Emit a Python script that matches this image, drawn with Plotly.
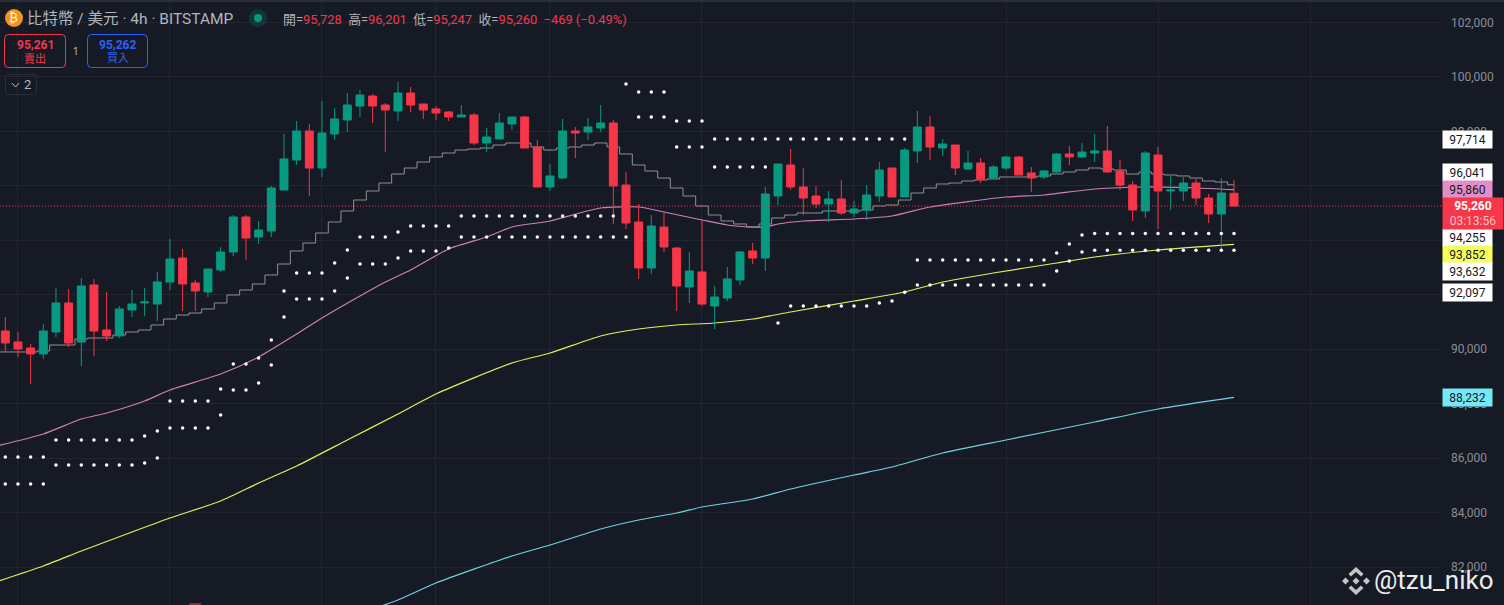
import plotly.graph_objects as go

# BTC/USD 4h candles
opens = [90670, 90266, 90046, 89826, 90634, 91699, 90266, 92360, 90707, 90487, 91442, 91699, 91662, 92470, 93352, 92434,
         92103, 92911, 93572, 94858, 94123, 94343, 95849, 96951, 98016, 96657, 97906, 98420, 98935, 99302, 98971, 98751,
         99412, 99008, 98825, 98714, 98531, 98604, 97576, 97723, 98274, 98531, 97429, 95960, 96290, 98016, 97980, 98127,
         98310, 96033, 94674, 92984, 94491, 93719, 92287, 92838, 91589, 91882, 92544, 93609, 93352, 95629, 96768, 95960,
         95629, 95335, 95519, 95005, 95115, 95629, 96657, 95592, 97282, 98163, 97392, 97502, 96621, 96841, 96290, 96657,
         97062, 96474, 96327, 96511, 97172, 97062, 97208, 97282, 96547, 96033, 95078, 97135, 95813, 95813, 96106, 95555,
         94968, 95728]
highs = [91185, 90634, 90193, 90928, 92250, 92213, 92617, 92581, 92103, 91589, 92176, 92250, 92838, 94049, 93682, 92544,
         92948, 93756, 94931, 94931, 94711, 95996, 97906, 98384, 98274, 99118, 98861, 99412, 99522, 99375, 99045, 99816,
         99633, 99008, 98935, 98751, 98971, 98678, 98127, 98678, 98531, 98567, 97686, 96804, 98457, 98163, 98494, 98971,
         98420, 96511, 95335, 94931, 95005, 93756, 93572, 94748, 92323, 93021, 93609, 93903, 95960, 96804, 97355, 96657,
         95996, 95813, 96217, 95445, 96033, 96878, 96657, 97392, 98751, 98567, 97723, 97502, 97282, 97025, 96768, 97098,
         97098, 96694, 96584, 97208, 97465, 97576, 97906, 98200, 96951, 96180, 97282, 97429, 96364, 96327, 96253, 95702,
         96290, 96201]
lows = [89900, 89716, 88724, 89642, 90450, 90083, 89385, 89752, 90303, 90413, 91185, 91222, 91038, 92176, 91405, 91405,
        91919, 92838, 93425, 93278, 93866, 94123, 95849, 96768, 95629, 96327, 97686, 97980, 98531, 98310, 97245, 98384,
        98714, 98457, 98420, 98384, 98531, 97502, 97245, 97723, 98053, 97392, 95960, 95813, 96253, 97025, 97686, 97980,
        94601, 94417, 92581, 92764, 93572, 91405, 91699, 91589, 90744, 91772, 92360, 93131, 92874, 95298, 95849, 94931,
        95188, 94674, 94931, 94858, 94748, 95409, 95592, 95592, 96841, 96951, 97098, 96400, 96584, 96106, 96290, 96584,
        96400, 95776, 96253, 96474, 96768, 97025, 96878, 96474, 95849, 94711, 94821, 94417, 95115, 95445, 95298, 94637,
        93609, 95247]
closes = [90230, 90010, 89826, 90670, 91699, 90230, 92323, 90670, 90487, 91479, 91662, 91736, 92470, 93315, 92397, 92140,
          92948, 93572, 94858, 94086, 94380, 95923, 96988, 98016, 96657, 97943, 98457, 98971, 99339, 98935, 98788, 99412,
          98971, 98788, 98678, 98531, 98604, 97576, 97796, 98310, 98531, 97392, 95960, 96364, 98016, 97943, 98163, 98310,
          95996, 94637, 92984, 94527, 93756, 92323, 92874, 91662, 91919, 92581, 93572, 93352, 95702, 96804, 95960, 95555,
          95335, 95519, 95005, 95151, 95666, 96584, 95592, 97318, 98163, 97429, 97539, 96657, 96841, 96253, 96694, 97062,
          96400, 96290, 96547, 97172, 97062, 97245, 97282, 96511, 96033, 95115, 97208, 95813, 95849, 96106, 95555, 94968,
          95739, 95260]

# stepped grey line, one level per candle (first level is off the left edge)
step_idx = list(range(-1, 98))
step_line = [89900, 89900, 89900, 89900, 89936, 90156, 90156, 90377, 90413, 90413, 90524, 90634, 90707, 90891, 91111, 91258,
             91331, 91479, 91699, 91993, 92176, 92397, 92727, 93131, 93609, 93903, 94270, 94674, 95078, 95482, 95813,
             96106, 96437, 96657, 96878, 97062, 97208, 97318, 97355, 97392, 97502, 97576, 97576, 97429, 97318, 97392,
             97429, 97502, 97576, 97429, 97172, 96768, 96547, 96290, 95923, 95629, 95262, 94931, 94711, 94601, 94491,
             94601, 94821, 94931, 95005, 95005, 95078, 95078, 95078, 95115, 95262, 95298, 95482, 95739, 95923, 96070,
             96106, 96180, 96217, 96253, 96327, 96327, 96327, 96364, 96437, 96511, 96584, 96657, 96621, 96584, 96437,
             96511, 96437, 96400, 96364, 96290, 96180, 96143, 96041]

# moving averages, read at a handful of candles
pink_idx = [-1, 3, 6, 8, 11, 13, 17, 20, 23, 25, 28, 30, 32, 35, 38, 40, 43, 47, 50, 52, 55, 57, 59, 60, 61, 63, 67, 70,
            73, 79, 82, 86, 90, 94, 97]
pink_ma = [86410, 86887, 87438, 87658, 88099, 88503, 89091, 89716, 90560, 91148, 91956, 92470, 92911, 93682, 94123, 94491,
           94711, 95188, 95225, 95041, 94748, 94564, 94491, 94491, 94601, 94711, 94784, 94894, 95225, 95592, 95666, 95886,
           95960, 95923, 95860]
yellow_idx = [-1, 3, 6, 10, 13, 17, 20, 23, 27, 31, 34, 40, 43, 47, 50, 53, 56, 59, 62, 67, 71, 74, 78, 83, 86, 91, 97]
yellow_ma = [81415, 82040, 82590, 83288, 83802, 84427, 85087, 85712, 86667, 87622, 88356, 89495, 89861, 90487, 90744, 90891,
             90964, 91111, 91369, 91772, 92103, 92470, 92801, 93168, 93388, 93646, 93852]
cyan_idx = [29, 31, 34, 40, 43, 47, 50, 53, 55, 59, 62, 67, 70, 74, 79, 86, 91, 97]
cyan_ma = [80460, 80790, 81415, 82407, 82810, 83398, 83728, 83986, 84206, 84500, 84867, 85381, 85675, 86190, 86667, 87328,
           87806, 88232]

# white dotted bands
upper_dots = [86042, 86042, 86042, 86042, 86667, 86667, 86667, 86667, 86667, 86667, 86667, 86814, 86998, 88099, 88099,
              88099, 88099, 88540, 89458, 89458, 89679, 90340, 92140, 92801, 92801, 92801, 93168, 93646, 94123, 94123,
              94123, 94307, 94527, 94527, 94527, 94527, 94894, 94894, 94894, 94894, 94894, 94894, 94894, 94894, 94894,
              94894, 94894, 94894, 94894, 99743, 99449, 99449, 99449, 98384, 98384, 98384, 97723, 97723, 97723, 97723,
              97723, 97723, 97723, 97723, 97723, 97723, 97723, 97723, 97723, 97723, 97723, 97723, 93278, 93278, 93278,
              93278, 93278, 93278, 93278, 93278, 93278, 93278, 93278, 93536, 93866, 94196, 94255, 94255, 94255, 94255,
              94255, 94255, 94255, 94255, 94255, 94255, 94255, 94255]
lower_dots = [85051, 85051, 85051, 85051, 85749, 85749, 85749, 85749, 85749, 85749, 85749, 85822, 86006, 87108, 87108,
              87108, 87108, 87585, 88503, 88503, 88760, 89422, 91185, 91846, 91846, 91846, 92140, 92617, 93131, 93131,
              93131, 93352, 93609, 93609, 93609, 93719, 94123, 94123, 94123, 94123, 94123, 94123, 94123, 94123, 94123,
              94123, 94123, 94123, 94123, 94123, 98531, 98531, 98531, 97429, 97429, 97429, 96694, 96694, 96694, 96694,
              96694, 90964, 91589, 91589, 91589, 91589, 91589, 91589, 91589, 91699, 91772, 92097, 92360, 92360, 92360,
              92360, 92360, 92360, 92360, 92360, 92360, 92360, 92360, 92874, 93242, 93572, 93632, 93632, 93632, 93632,
              93632, 93632, 93632, 93632, 93632, 93632, 93632, 93632]

# the only volume bar that pokes into the frame
volume_idx = [15]
volume_height = [680]
volume_base = 80000

price_ticks = [82000, 84000, 86000, 88000, 90000, 92000, 94000, 96000, 98000, 100000, 102000]
time_grid = [1, 13, 25, 34, 43, 55, 67, 79, 91, 103]
last_price = 95260

# price tags on the axis: text, background, centre row in the window
tag_text = ["97,714", "96,041", "95,860", "94,255", "93,852", "93,632", "92,097", "88,232"]
tag_color = ["#ffffff", "#ffffff", "#e28fc9", "#ffffff", "#f6ff5a", "#ffffff", "#ffffff", "#74e8f6"]
tag_row = [139.5, 172.5, 189.5, 237.5, 254.5, 271.5, 292.5, 397.5]

WIDTH, HEIGHT = 1504, 605
PLOT_W = 1442
BG = "#161a25"
GRID = "#23262f"
UP = "#089981"
DOWN = "#f63649"
TEXT = "#b2b5be"
FONT = "Roboto, 'Noto Sans CJK TC', sans-serif"
X_RANGE = [-0.418, 113.42]
Y_RANGE = [80606, 102828]


def px(x):
    return x / PLOT_W


def py(y):
    return 1 - y / HEIGHT


def label(text, x, y, size=12, color=TEXT, anchor="left", **kw):
    fig.add_annotation(
        text=text, x=px(x), y=py(y), xref="paper", yref="paper", xanchor=anchor, yanchor="middle",
        showarrow=False, font=dict(size=size, color=color, family=FONT), **kw
    )


def poly(points):
    return "M " + " L ".join(f"{px(x)} {py(y)}" for x, y in points) + " Z"


def round_box(x0, y0, x1, y1, r):
    return (f"M {px(x0 + r)} {py(y0)} L {px(x1 - r)} {py(y0)} Q {px(x1)} {py(y0)} {px(x1)} {py(y0 + r)} "
            f"L {px(x1)} {py(y1 - r)} Q {px(x1)} {py(y1)} {px(x1 - r)} {py(y1)} "
            f"L {px(x0 + r)} {py(y1)} Q {px(x0)} {py(y1)} {px(x0)} {py(y1 - r)} "
            f"L {px(x0)} {py(y0 + r)} Q {px(x0)} {py(y0)} {px(x0 + r)} {py(y0)} Z")


def shape_path(path, fill="rgba(0,0,0,0)", line="rgba(0,0,0,0)", width=1):
    fig.add_shape(type="path", path=path, xref="paper", yref="paper", fillcolor=fill,
                  line=dict(color=line, width=width), layer="above")


def circle(cx, cy, r, fill):
    fig.add_shape(type="circle", x0=px(cx - r), x1=px(cx + r), y0=py(cy + r), y1=py(cy - r), xref="paper", yref="paper",
                  fillcolor=fill, line_width=0, layer="above")


candle_idx = list(range(len(closes)))
fig = go.Figure()

# Lines sit on the base axes so the candles cover them
smooth = dict(width=1.2, shape="spline", smoothing=0.6)
fig.add_trace(go.Scatter(x=cyan_idx, y=cyan_ma, mode="lines", line=dict(color="#6fd3e0", **smooth)))
fig.add_trace(go.Scatter(x=yellow_idx, y=yellow_ma, mode="lines", line=dict(color="#e6ee5a", **smooth)))
fig.add_trace(go.Scatter(x=pink_idx, y=pink_ma, mode="lines", line=dict(color="#cf7fb5", **smooth)))
fig.add_trace(go.Scatter(x=step_idx, y=step_line, mode="lines", line=dict(color="#8f9196", width=1, shape="hvh")))

fig.add_trace(go.Bar(x=volume_idx, y=volume_height, base=volume_base, width=0.95,
                     marker=dict(color="#7d2f39", line_width=0), xaxis="x2", yaxis="y2"))
fig.add_trace(go.Candlestick(
    x=candle_idx, open=opens, high=highs, low=lows, close=closes, whiskerwidth=0, xaxis="x2", yaxis="y2",
    increasing=dict(line=dict(color=UP, width=1), fillcolor=UP),
    decreasing=dict(line=dict(color=DOWN, width=1), fillcolor=DOWN),
))
fig.add_trace(go.Scatter(x=candle_idx, y=upper_dots, mode="markers", marker=dict(color="#ffffff", size=3.5),
                         xaxis="x2", yaxis="y2"))
fig.add_trace(go.Scatter(x=candle_idx, y=lower_dots, mode="markers", marker=dict(color="#ffffff", size=3.5),
                         xaxis="x2", yaxis="y2"))

# Last price line
fig.add_shape(type="line", x0=0, x1=1, xref="paper", y0=last_price, y1=last_price, yref="y",
              line=dict(color=DOWN, width=1, dash="1px,2px"), layer="above")

fig.update_layout(
    width=WIDTH, height=HEIGHT, margin=dict(l=0, r=WIDTH - PLOT_W, t=0, b=0),
    paper_bgcolor=BG, plot_bgcolor=BG, showlegend=False, boxgap=0.37, boxgroupgap=0,
    font=dict(family=FONT, size=12, color="#8b8e97"),
    xaxis=dict(range=X_RANGE, tickvals=time_grid, showticklabels=False, gridcolor=GRID, gridwidth=1, zeroline=False,
               ticks=""),
    yaxis=dict(range=Y_RANGE, side="right", tickvals=price_ticks, tickformat=",d", gridcolor=GRID, gridwidth=1,
               zeroline=False, ticks="", ticklabelstandoff=8),
    xaxis2=dict(range=X_RANGE, overlaying="x", visible=False, rangeslider=dict(visible=False)),
    yaxis2=dict(range=Y_RANGE, overlaying="y", side="right", visible=False),
)

# Thin strip along the top of the window
fig.add_shape(type="rect", x0=0, x1=WIDTH / PLOT_W, y0=py(2), y1=1, xref="paper", yref="paper", fillcolor="#2a2e39",
              line_width=0, layer="above")

# Header
circle(14, 18, 9, "#f7931a")
label("₿", 14, 18, size=12, color="#ffffff", anchor="center")
label("比特幣 / 美元 · 4h · BITSTAMP", 25, 19, size=15.5)
circle(258, 18, 9, "rgba(8,153,129,0.2)")
circle(258, 18, 4, UP)
red = f"color:{DOWN}"
label(f"開=<span style='{red}'>95,728</span>  高=<span style='{red}'>96,201</span>  "
      f"低=<span style='{red}'>95,247</span>  收=<span style='{red}'>95,260</span>  "
      f"<span style='{red}'>−469 (−0.49%)</span>", 281, 19, size=12.9)

# Sell / buy buttons
shape_path(round_box(4.5, 34.5, 65.5, 67.5, 4), line=DOWN)
label("<b>95,261</b>", 35, 44.5, size=12, color=DOWN, anchor="center")
label("賣出", 35, 59, size=11, color=DOWN, anchor="center")
label("1", 76, 51, size=10, anchor="center")
shape_path(round_box(87.5, 34.5, 147.5, 67.5, 4), line="#2962ff")
label("<b>95,262</b>", 117.5, 44.5, size=12, color="#2962ff", anchor="center")
label("買入", 117.5, 59, size=11, color="#2962ff", anchor="center")

# Collapsed indicators button
shape_path(round_box(5.5, 74.5, 36.5, 94.5, 3), line="#2a2e39")
fig.add_shape(type="path", path=f"M {px(12)} {py(83)} L {px(15.5)} {py(87)} L {px(19)} {py(83)}", xref="paper",
              yref="paper", line=dict(color=TEXT, width=1), layer="above")
label("2", 28, 84.5, size=13, anchor="center")

# Axis tags, drawn over the tick labels they hide
for text, color, row in zip(tag_text, tag_color, tag_row):
    label(text, PLOT_W, row, size=12, color="#131722", bgcolor=color, width=49, height=17, borderpad=0, align="center")
label("<b>95,260</b><br><span style='color:#ffc4ca'>03:13:56</span>", PLOT_W, 213.5, size=12, color="#ffffff",
      bgcolor=DOWN, width=60, height=31, borderpad=0, align="center")

# Watermark
cx, cy = 1356, 581
ICON = "#c4c4c4"
shape_path(poly([(cx - 3.5, cy), (cx, cy - 3.5), (cx + 3.5, cy), (cx, cy + 3.5)]), fill=ICON)
shape_path(poly([(cx - 14, cy), (cx - 10.5, cy - 3.5), (cx - 7, cy), (cx - 10.5, cy + 3.5)]), fill=ICON)
shape_path(poly([(cx + 14, cy), (cx + 10.5, cy - 3.5), (cx + 7, cy), (cx + 10.5, cy + 3.5)]), fill=ICON)
shape_path(poly([(cx - 7.5, cy - 7), (cx, cy - 14), (cx + 7.5, cy - 7), (cx + 5, cy - 4.5), (cx, cy - 9),
                 (cx - 5, cy - 4.5)]), fill=ICON)
shape_path(poly([(cx - 7.5, cy + 7), (cx, cy + 14), (cx + 7.5, cy + 7), (cx + 5, cy + 4.5), (cx, cy + 9),
                 (cx - 5, cy + 4.5)]), fill=ICON)
label("@tzu_niko", 1372, 580, size=26, color="#ececec")

fig.write_html("out.html", config=dict(displayModeBar=False),
               post_script="document.body.style.margin='0';document.body.style.overflow='hidden';")
